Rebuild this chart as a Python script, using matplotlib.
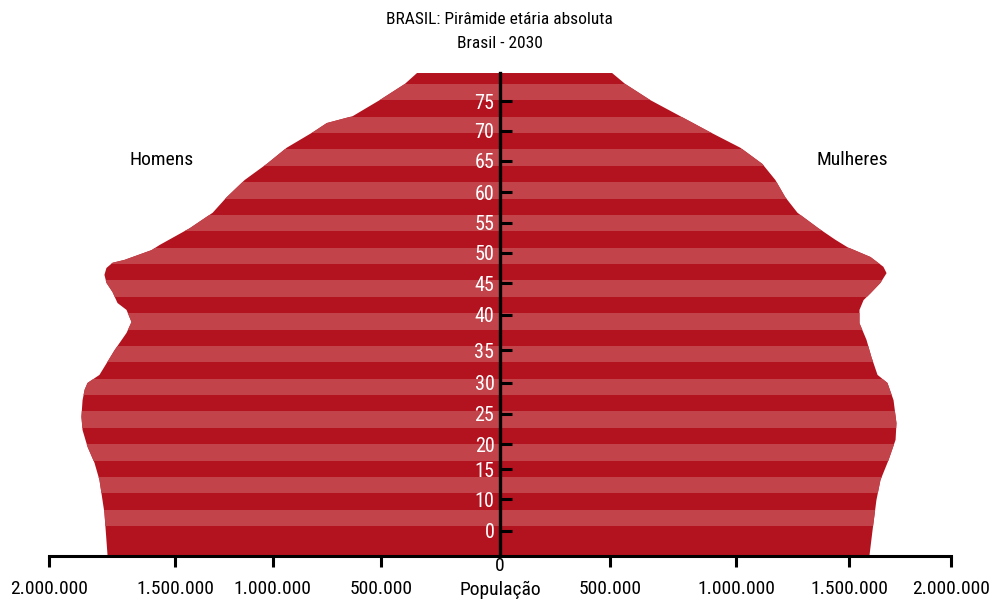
import numpy as np
import matplotlib
matplotlib.use('Agg')
import matplotlib.pyplot as plt

plt.rcParams['font.family'] = ['DejaVu Sans Condensed', 'Liberation Sans Narrow',
                               'Roboto Condensed', 'Roboto']

# Contorno (idade, população)
ages_m = [0, 7.5, 13.2, 16.2, 19.0, 21.9, 24.2, 27.1, 28.9, 30.1, 31.5, 35.8, 38.8,
          40.7, 42.8, 44.0, 45.9, 47.5, 48.9, 50.1, 51.0, 51.5, 53.2, 54.1, 57.0,
          59.7, 62.4, 65.4, 68.2, 71.0, 73.7, 75.3, 76.5, 79.3, 82.1, 84.0]
pop_m = [1740, 1754, 1776, 1798, 1829, 1851, 1856, 1851, 1842, 1829, 1776, 1709, 1656,
         1634, 1656, 1696, 1718, 1745, 1754, 1745, 1718, 1665, 1545, 1509, 1376,
         1274, 1212, 1132, 1034, 946, 830, 768, 653, 533, 422, 368]

ages_f = [0, 4.5, 9.7, 13.2, 16.7, 20.2, 23.1, 27.1, 30.1, 31.5, 34.6, 37.6, 40.5,
          42.8, 44.5, 45.7, 47.5, 49.2, 50.3, 52.0, 53.7, 55.0, 57.0, 59.7, 62.4,
          65.4, 68.2, 71.0, 73.7, 76.5, 79.3, 82.1, 84.0]
pop_f = [1638, 1652, 1669, 1687, 1723, 1754, 1758, 1745, 1718, 1674, 1647, 1625, 1594,
         1594, 1612, 1643, 1687, 1714, 1700, 1643, 1541, 1487, 1412, 1319, 1265,
         1221, 1163, 1066, 932, 799, 666, 555, 497]

# Eixos (posições)
ytick_pos = [4.4, 9.9, 15.1, 19.4, 24.7, 30.1, 35.8, 42.0, 47.4, 52.7, 58.0, 63.3, 68.7, 74.0, 79.1]
ytick_lab = ['0', '10', '15', '20', '25', '30', '35', '40', '45', '50', '55', '60', '65', '70', '75']
xtick_pos = [-2000000, -1440000, -1008000, -528000, 488000, 1048000, 1549000, 2000000]
xtick_lab = ['2.000.000', '1.500.000', '1.000.000', '500.000',
             '500.000', '1.000.000', '1.500.000', '2.000.000']

DARK = '#b3131e'
LIGHT = '#c3434b'

fig = plt.figure(figsize=(9.99, 6), dpi=100)
ax = fig.add_axes([0.049, 0.0733, 0.903, 0.805])

xs = [-p * 1000 for p in pop_m] + [p * 1000 for p in pop_f[::-1]]
ys = list(ages_m) + list(ages_f[::-1])
poly = ax.fill(xs, ys, color=DARK, lw=0, zorder=1)[0]

# faixas claras
edges = np.linspace(82.1, 5.2, 28)
for k in range(0, 27, 2):
    band = ax.axhspan(edges[k + 1], edges[k], color=LIGHT, lw=0, zorder=1.5)
    band.set_clip_path(poly)

ax.set_xlim(-2000000, 2000000)
ax.set_ylim(0, 84)

for s in ['top', 'right']:
    ax.spines[s].set_visible(False)
ax.spines['left'].set_position(('data', 0))
ax.spines['left'].set_linewidth(2.4)
ax.spines['bottom'].set_linewidth(2.2)
ax.spines['left'].set_zorder(5)
ax.spines['bottom'].set_zorder(5)

ax.set_yticks(ytick_pos)
ax.set_yticklabels(ytick_lab)
ax.tick_params(axis='y', direction='in', length=8.5, width=2.2, pad=4,
               labelsize=14.5, labelcolor='white')

ax.set_xticks(xtick_pos)
ax.set_xticklabels(xtick_lab)
ax.tick_params(axis='x', direction='out', length=8, width=2.2, pad=9, labelsize=14)
ax.set_xticks([0], minor=True)
ax.set_xticklabels(['0'], minor=True)
ax.tick_params(axis='x', which='minor', length=0, pad=1, labelsize=14)

ax.text(0, -0.071, 'População', transform=ax.get_xaxis_transform(),
        ha='center', va='center', fontsize=14)

ax.text(-1500000, 68.8, 'Homens', ha='center', va='center', fontsize=14)
ax.text(1563000, 68.8, 'Mulheres', ha='center', va='center', fontsize=14)

fig.text(0.5, 0.967, 'BRASIL: Pirâmide etária absoluta', ha='center', va='center', fontsize=12.5)
fig.text(0.5, 0.927, 'Brasil - 2030', ha='center', va='center', fontsize=12.5)

fig.savefig('out.png', dpi=100)
